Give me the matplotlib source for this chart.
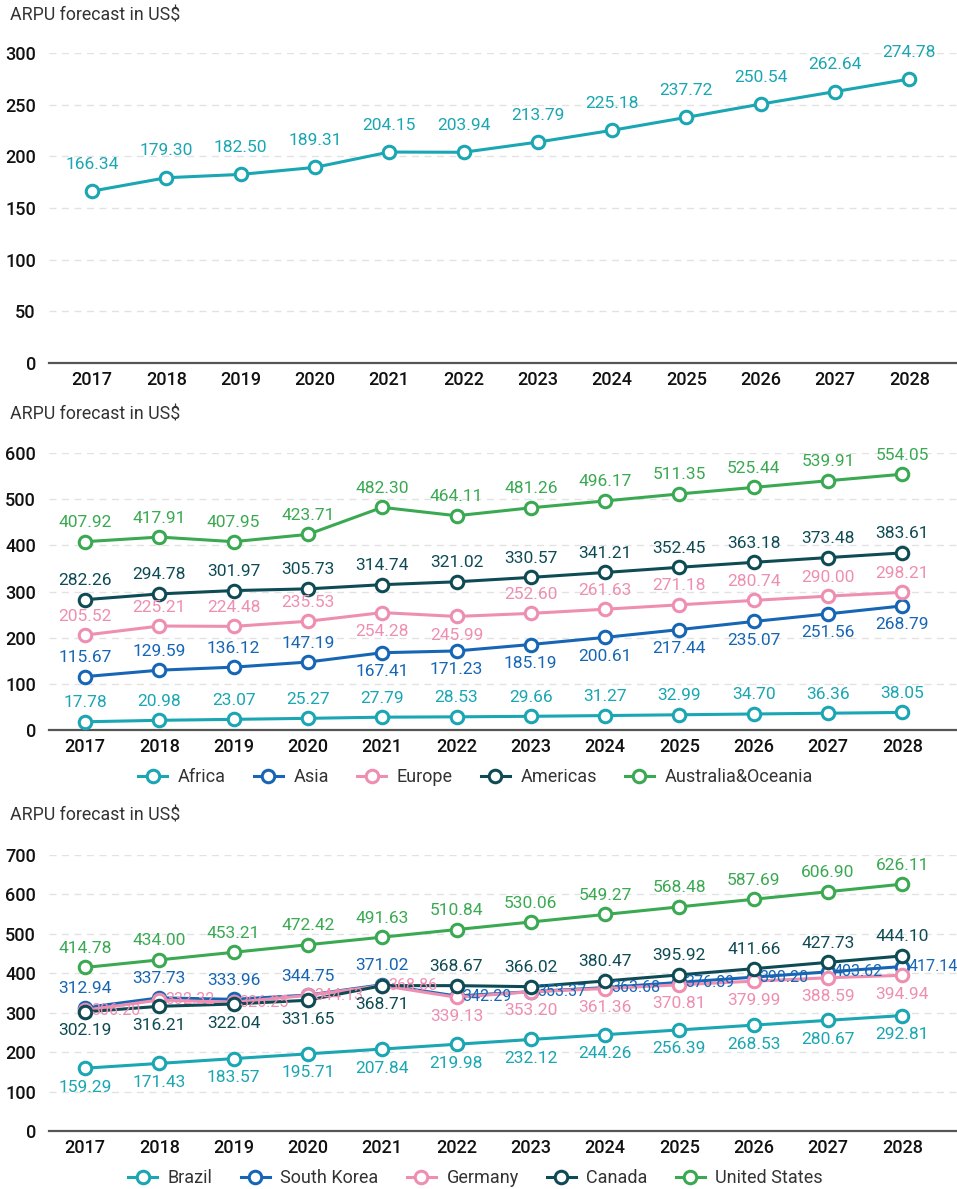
import matplotlib.pyplot as plt
import numpy as np

plt.rcParams['font.family'] = ['Roboto', 'DejaVu Sans']

years = ['2017', '2018', '2019', '2020', '2021', '2022',
         '2023', '2024', '2025', '2026', '2027', '2028']

# panel 1 - worldwide
world = [166.34, 179.30, 182.50, 189.31, 204.15, 203.94, 213.79, 225.18, 237.72, 250.54, 262.64, 274.78]

# panel 2 - regions
africa = [17.78, 20.98, 23.07, 25.27, 27.79, 28.53, 29.66, 31.27, 32.99, 34.70, 36.36, 38.05]
asia = [115.67, 129.59, 136.12, 147.19, 167.41, 171.23, 185.19, 200.61, 217.44, 235.07, 251.56, 268.79]
europe = [205.52, 225.21, 224.48, 235.53, 254.28, 245.99, 252.60, 261.63, 271.18, 280.74, 290.00, 298.21]
americas = [282.26, 294.78, 301.97, 305.73, 314.74, 321.02, 330.57, 341.21, 352.45, 363.18, 373.48, 383.61]
australia = [407.92, 417.91, 407.95, 423.71, 482.30, 464.11, 481.26, 496.17, 511.35, 525.44, 539.91, 554.05]

# panel 3 - countries
brazil = [159.29, 171.43, 183.57, 195.71, 207.84, 219.98, 232.12, 244.26, 256.39, 268.53, 280.67, 292.81]
south_korea = [312.94, 337.73, 333.96, 344.75, 371.02, 342.29, 353.37, 363.68, 376.89, 390.20, 403.62, 417.14]
germany = [306.20, 332.32, 326.25, 344.13, 368.86, 339.13, 353.20, 361.36, 370.81, 379.99, 388.59, 394.94]
canada = [302.19, 316.21, 322.04, 331.65, 368.71, 368.67, 366.02, 380.47, 395.92, 411.66, 427.73, 444.10]
us = [414.78, 434.00, 453.21, 472.42, 491.63, 510.84, 530.06, 549.27, 568.48, 587.69, 606.90, 626.11]

CYAN = '#1aa6b2'
BLUE = '#1766b5'
PINK = '#ee8fb2'
DARK = '#0f4b55'
GREEN = '#3aa952'

W, H = 957, 1189
fig = plt.figure(figsize=(W / 100, H / 100), dpi=100)


def make_axes(top_px, bottom_px, left_px=49):
    return fig.add_axes([left_px / W, 1 - bottom_px / H, (W - left_px) / W, (bottom_px - top_px) / H])


def draw_panel(ax, series, ymax, ystep, x0_px, up=19):
    x = np.arange(len(years))
    for values, color, name, pos in series:
        ax.plot(x, values, color=color, lw=2.2, marker='o', ms=9, mfc='white',
                mec=color, mew=2.2, label=name, clip_on=False, zorder=3)
    for values, color, name, pos in series:
        for i, v in enumerate(values):
            p = pos[i]
            size = 12.5
            if p == 'a':
                off, ha = (0, up), 'center'
            elif p == 'b':
                off, ha = (0, -19), 'center'
            else:
                # labels placed inline, right of the marker
                off, ha, size = (6, 0), 'left', 11.5
            ax.annotate(f'{v:.2f}', (i, v), xytext=off, textcoords='offset pixels',
                        ha=ha, va='center', color=color, fontsize=size, zorder=5)
    spacing = 74.3
    lo = -(x0_px - 49) / spacing
    ax.set_xlim(lo, lo + (W - 49) / spacing)
    ax.set_ylim(0, ymax)
    ax.set_yticks(np.arange(0, ymax + 1, ystep))
    ax.set_xticks(x, years)
    ax.tick_params(axis='x', length=0, pad=6, labelsize=13, labelcolor='#111')
    ax.tick_params(axis='y', length=0, pad=9.5, labelsize=13, labelcolor='#111')
    for lab in ax.get_xticklabels() + ax.get_yticklabels():
        lab.set_fontweight('medium')
    for s in ['top', 'left', 'right']:
        ax.spines[s].set_visible(False)
    ax.spines['bottom'].set_color('#555555')
    ax.spines['bottom'].set_linewidth(1.6)
    ax.yaxis.grid(True, ls=(0, (5, 4)), color='#e2e2e2', lw=1)
    ax.set_axisbelow(True)


def title(y_px):
    fig.text(10 / W, 1 - y_px / H, 'ARPU forecast in US$', ha='left', va='center',
             fontsize=12.8, color='#333333')


def legend(ax, y_px):
    ax.legend(loc='center', bbox_to_anchor=(0.497, 1 - y_px / H), bbox_transform=fig.transFigure,
              ncol=5, frameon=False, handlelength=1.6, columnspacing=1.55, handletextpad=0.6,
              fontsize=13, labelcolor='#333333')


# panel 1
ax1 = make_axes(53, 363)
draw_panel(ax1, [(world, CYAN, 'World', 'a' * 12)], 300, 50, 92, up=27)
title(15)

# panel 2
ax2 = make_axes(453, 730)
draw_panel(ax2, [
    (africa, CYAN, 'Africa', 'a' * 12),
    (asia, BLUE, 'Asia', 'aaaa' + 'b' * 8),
    (europe, PINK, 'Europe', 'aaaabb' + 'a' * 6),
    (americas, DARK, 'Americas', 'a' * 12),
    (australia, GREEN, 'Australia&Oceania', 'a' * 12),
], 600, 100, 85)
title(415)
legend(ax2, 777)

# panel 3
ax3 = make_axes(855, 1131)
draw_panel(ax3, [
    (brazil, CYAN, 'Brazil', 'b' * 12),
    (south_korea, BLUE, 'South Korea', 'aaaaa' + 'r' * 7),
    (germany, PINK, 'Germany', 'rrrrr' + 'b' * 7),
    (canada, DARK, 'Canada', 'bbbbb' + 'a' * 7),
    (us, GREEN, 'United States', 'a' * 12),
], 700, 100, 85)
title(815)
legend(ax3, 1178)

fig.savefig('out.png', dpi=100)
